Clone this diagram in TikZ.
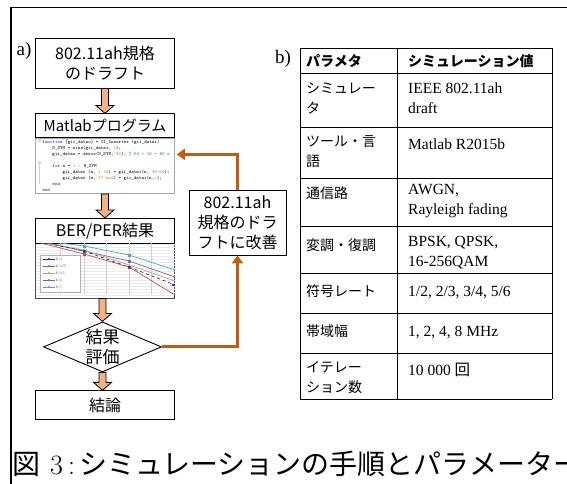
\documentclass[tikz,border=0pt]{standalone}
\usepackage{fontspec}
\newfontfamily\jp{Noto Sans CJK JP}
\newfontfamily\tms{Liberation Serif}
\usetikzlibrary{positioning,calc,shapes.geometric,arrows.meta}

\definecolor{arrowfill}{HTML}{F4B183}
\definecolor{fbcolor}{HTML}{C55A11}
\definecolor{codeblue}{HTML}{1E1EC8}
\definecolor{codenum}{HTML}{E07B1A}
\definecolor{codecom}{HTML}{2E9A2E}
\definecolor{lblue}{HTML}{2020E0}
\definecolor{lred}{HTML}{C0504D}
\definecolor{lgreen}{HTML}{9BBB59}
\definecolor{lpurple}{HTML}{8064A2}
\definecolor{lcyan}{HTML}{4BACC6}

\tikzset{
  box/.style={draw, line width=0.9pt, inner sep=0pt, align=center,
    font=\jp\fontsize{16}{20}\selectfont},
  flowbox/.style={box, minimum width=139pt},
  blockarr/.style={draw, line width=0.8pt, fill=arrowfill},
  feedback/.style={draw=fbcolor, line width=3pt, -{Triangle[length=8pt,width=11pt]}},
  ptext/.style={anchor=north west, inner sep=0pt, align=left,
    font=\jp\fontsize{14}{20}\selectfont, execute at begin node=\strut},
  vtext/.style={anchor=north west, inner sep=0pt, align=left,
    font=\tms\fontsize{15.5}{20}\selectfont, execute at begin node=\strut},
  tablerule/.style={line width=0.9pt},
  curve/.style={line width=0.7pt},
}

% fat arrow pointing down from #1 to #2
\newcommand{\blockarrow}[2]{%
  \path[blockarr] let \p1=(#1), \p2=(#2) in
    (\x1-3.5pt,\y1) -- (\x1-3.5pt,\y2+8pt) -- (\x1-9pt,\y2+8pt) -- (\x1,\y2)
    -- (\x1+9pt,\y2+8pt) -- (\x1+3.5pt,\y2+8pt) -- (\x1+3.5pt,\y1) -- cycle;}

\begin{document}
\begin{tikzpicture}[x=1pt,y=-1pt]
  \useasboundingbox (0,0) rectangle (567,484);
  \clip (0,0) rectangle (567,484);
  \fill[white] (0,0) rectangle (567,484);

  % frame
  \draw[line width=1.8pt] (11,484) -- (11,7.5) -- (567,7.5);

  % a) flow
  \node[inner sep=0pt, font=\tms\fontsize{19}{19}\selectfont] (la) at (24,51) {a)};
  \node[flowbox, minimum height=50pt] (draft) at (105,63) {802.11ah規格\\のドラフト};
  \node[flowbox, minimum height=24pt, below=25pt of draft,
        font=\jp\fontsize{15}{15}\selectfont] (matlab) {Matlabプログラム};
  \node[draw=gray!70, line width=0.6pt, minimum width=139pt, minimum height=55pt,
        inner sep=0pt, below=0pt of matlab] (code) {};
  \begin{scope}
    \clip (code.south west) rectangle (code.north east);
    \fill[gray!30] (38,139) rectangle (41,142);
    \fill[gray!30] (38,161) rectangle (41,164);
    \draw[gray!40, line width=0.3pt] (39.5,164) -- (39.5,184);
    \node[anchor=north west, inner sep=0pt, align=left,
          font=\ttfamily\fontsize{4.8}{6}\selectfont] (listing)
          at ($(code.north west)+(7,1.5)$) {%
      \textcolor{codeblue}{function} [gii\_datao] = GI\_Inserter (gii\_datai)\\
      \hspace*{2.1em}N\_SYM = size(gii\_datai, \textcolor{codenum}{1});\\
      \hspace*{2.1em}gii\_datao = zeros(N\_SYM, \textcolor{codenum}{80}); \textcolor{codecom}{\% 64 + 16 = 80 s}\\
      \mbox{}\\
      \hspace*{2.1em}\textcolor{codeblue}{for} n = \textcolor{codenum}{1} : N\_SYM\\
      \hspace*{4.2em}gii\_datao (n, \textcolor{codenum}{1:16}) = gii\_datai(n, \textcolor{codenum}{49:64});\\
      \hspace*{4.2em}gii\_datao (n, \textcolor{codenum}{17:end}) = gii\_datai(n,:);\\
      \hspace*{2.1em}\textcolor{codeblue}{end}\\
      \textcolor{codeblue}{end}};
  \end{scope}

  \node[flowbox, minimum height=25pt, below=24pt of code] (result) {BER/PER結果};
  \node[draw=gray!60!black, line width=0.6pt, minimum width=139pt, minimum height=54pt,
        inner sep=0pt, below=0pt of result] (chart) {};
  \begin{scope}
    \clip (chart.south west) rectangle (chart.north east);
    \foreach \y in {244,247,...,295} \draw[gray!15, line width=0.3pt] (36,\y) -- (175,\y);
    \foreach \x in {60,84,106,129,151} \draw[gray!35, line width=0.4pt] (\x,241) -- (\x,295);
    \draw[curve, lcyan] (37,240) -- (84,246) -- (129,255) -- (175,270);
    \draw[curve, lpurple] (37,241) -- (84,251) -- (129,261) -- (175,277);
    \draw[curve, lgreen] (37,241) -- (84,250) -- (129,265) -- (175,281);
    \draw[curve, lblue, dashed] (37,241) -- (84,251) -- (129,267) -- (175,285);
    \draw[curve, lred] (37,242) -- (84,254) -- (129,267) -- (175,295);
    \foreach \x/\y in {84/246,129/255,175/270} \fill[lcyan] (\x-1.5,\y-1.5) rectangle (\x+1.5,\y+1.5);
    \foreach \x/\y in {84/251,129/261,175/277} \fill[lpurple] (\x-1.5,\y-1.5) rectangle (\x+1.5,\y+1.5);
    \foreach \x/\y in {84/254,129/267,175/294} \fill[lred] (\x-1.5,\y-1.5) rectangle (\x+1.5,\y+1.5);
    \foreach \x/\y in {84/251,129/267,173/285} \fill[lblue] (\x,\y) circle (1.4);
    % legend
    \draw[gray!60, fill=white, line width=0.4pt] (40,255) rectangle (80,292);
    \foreach \c/\t [count=\i] in {lblue/E=1, lred/E=1.75, lgreen/E=3.5, lpurple/E=5, lcyan/E=7} {
      \draw[\c, line width=0.6pt] (43,252+7*\i) -- (55,252+7*\i);
      \fill[\c] (49,252+7*\i) circle (1.1);
      \node[anchor=west, inner sep=0pt, font=\tms\fontsize{3.5}{3.5}\selectfont, gray!50!black]
        (leg\i) at (56,252+7*\i) {\t};
    }
  \end{scope}

  \node[diamond, draw, line width=0.9pt, minimum width=118pt, minimum height=50pt,
        inner sep=0pt, below=23pt of chart, xshift=-2.5pt,
        label={[box, draw=none, font=\jp\fontsize{17}{20}\selectfont]center:結果\\評価}] (eval) {};
  \node[flowbox, minimum height=29pt, below=18pt of eval, xshift=2.5pt] (concl) {結論};

  \blockarrow{draft.south}{matlab.north}
  \blockarrow{code.south}{result.north}
  \blockarrow{chart.south -| eval.north}{eval.north}
  \blockarrow{eval.south}{concl.north -| eval.south}

  % feedback loop
  \node[box, minimum width=97pt, minimum height=65pt] (improve) at (237.5,222.5)
    {802.11ah\\規格のドラ\\フトに改善};
  \coordinate (codein) at ($(code.north east)+(2,16)$);
  \draw[feedback] (eval.east) -| (improve.south);
  \draw[feedback] (improve.north) |- (codein);

  % b) table
  \node[inner sep=0pt, font=\tms\fontsize{19}{19}\selectfont] (lb) at (283,59) {b)};
  \foreach \y in {48,73,127,178,226,273,313,353,399}
    \draw[tablerule] (300,\y) -- (552,\y);
  \foreach \x in {300,397,552}
    \draw[tablerule] (\x,48) -- (\x,399);
  \node[ptext, font=\jp\bfseries\fontsize{14}{20}\selectfont] (hp) at (306,52) {パラメタ};
  \node[ptext, font=\jp\bfseries\fontsize{14}{20}\selectfont] (hv) at (408,52) {シミュレーション値};
  \foreach \b/\pa/\va [count=\i] in {
      83/{シミュレー\\タ}/{IEEE 802.11ah\\draft},
      135/{ツール・言\\語}/{Matlab R2015b},
      184/{通信路}/{AWGN,\\Rayleigh fading},
      236/{変調・復調}/{BPSK, QPSK,\\16-256QAM},
      282/{符号レート}/{1/2, 2/3, 3/4, 5/6},
      322/{帯域幅}/{1, 2, 4, 8 MHz},
      361/{イテレー\\ション数}/{10 000 {\jp 回}}} {
    \node[ptext] (p\i) at (306,\b) {\pa};
    \node[vtext] (v\i) at (408,\b) {\va};
  }

  % caption
  \node[anchor=base west, inner sep=0pt, font=\fontsize{28}{28}\selectfont] (cap) at (12,474)
    {{\jp 図}\hspace{10pt}3\hspace{5pt}:\hspace{4pt}{\jp シミュレーションの手順とパラメーター}};
\end{tikzpicture}
\end{document}
